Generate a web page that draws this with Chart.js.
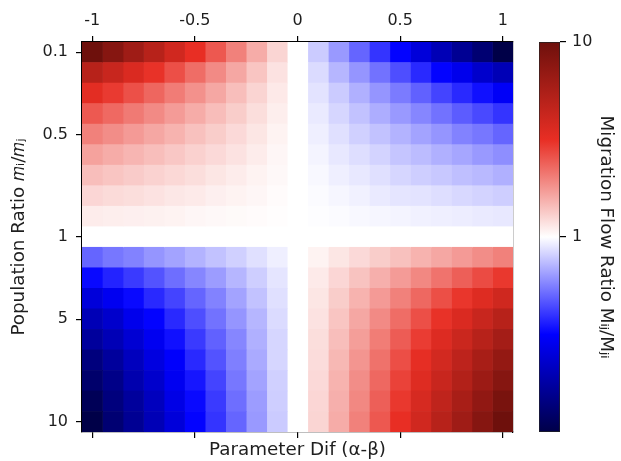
<!DOCTYPE html>
<html>
<head>
<meta charset="utf-8">
<script src="https://cdn.jsdelivr.net/npm/chart.js@4.4.0/dist/chart.umd.min.js"></script>
<style>
html,body{margin:0;padding:0;background:#fff;}
#wrap{position:relative;width:621px;height:461px;}
canvas{position:absolute;left:0;top:0;}
</style>
</head>
<body>
<div id="wrap">
<canvas id="main" width="621" height="461"></canvas>
<canvas id="cbar" width="621" height="461"></canvas>
</div>
<script>
// ---- categories / ticks ----
const paramDif = [-1, -0.9, -0.8, -0.7, -0.6, -0.5, -0.4, -0.3, -0.2, -0.1, 0, 0.1, 0.2, 0.3, 0.4, 0.5, 0.6, 0.7, 0.8, 0.9, 1];
const popRatio = ['0.1', '0.2', '0.3', '0.4', '0.5', '0.6', '0.7', '0.8', '0.9', '1', '2', '3', '4', '5', '6', '7', '8', '9', '10'];
const xTickValues = [-1, -0.5, 0, 0.5, 1];
const xTickLabels = ['-1', '-0.5', '0', '0.5', '1'];
const yTickLabels = ['0.1', '0.5', '1', '5', '10'];
const colorRange = [0.1, 10];
const colorTicks = [1, 10];

// ---- migration flow ratio M_ij/M_ji, one row per population ratio ----
const row_0_1 = [10, 7.94, 6.31, 5.01, 3.98, 3.16, 2.51, 2.00, 1.58, 1.26, 1, 0.79, 0.63, 0.50, 0.40, 0.32, 0.25, 0.20, 0.16, 0.13, 0.10];
const row_0_2 = [5.00, 4.26, 3.62, 3.09, 2.63, 2.24, 1.90, 1.62, 1.38, 1.17, 1, 0.85, 0.72, 0.62, 0.53, 0.45, 0.38, 0.32, 0.28, 0.23, 0.20];
const row_0_3 = [3.33, 2.96, 2.62, 2.32, 2.06, 1.83, 1.62, 1.43, 1.27, 1.13, 1, 0.88, 0.79, 0.70, 0.62, 0.55, 0.49, 0.43, 0.38, 0.34, 0.30];
const row_0_4 = [2.50, 2.28, 2.08, 1.90, 1.73, 1.58, 1.44, 1.32, 1.20, 1.10, 1, 0.91, 0.83, 0.76, 0.69, 0.63, 0.58, 0.53, 0.48, 0.44, 0.40];
const row_0_5 = [2.00, 1.87, 1.74, 1.62, 1.52, 1.41, 1.32, 1.23, 1.15, 1.07, 1, 0.93, 0.87, 0.81, 0.76, 0.71, 0.66, 0.62, 0.57, 0.54, 0.50];
const row_0_6 = [1.67, 1.58, 1.50, 1.43, 1.36, 1.29, 1.23, 1.17, 1.11, 1.05, 1, 0.95, 0.90, 0.86, 0.82, 0.77, 0.74, 0.70, 0.67, 0.63, 0.60];
const row_0_7 = [1.43, 1.38, 1.33, 1.28, 1.24, 1.20, 1.15, 1.11, 1.07, 1.04, 1, 0.97, 0.93, 0.90, 0.87, 0.83, 0.80, 0.78, 0.75, 0.73, 0.70];
const row_0_8 = [1.25, 1.22, 1.20, 1.17, 1.14, 1.12, 1.09, 1.07, 1.05, 1.02, 1, 0.98, 0.96, 0.94, 0.91, 0.89, 0.88, 0.86, 0.84, 0.82, 0.80];
const row_0_9 = [1.11, 1.10, 1.09, 1.08, 1.07, 1.05, 1.04, 1.03, 1.02, 1.01, 1, 0.99, 0.98, 0.97, 0.96, 0.95, 0.94, 0.93, 0.92, 0.91, 0.90];
const row_1   = [1, 1, 1, 1, 1, 1, 1, 1, 1, 1, 1, 1, 1, 1, 1, 1, 1, 1, 1, 1, 1];
const row_2   = [0.50, 0.54, 0.57, 0.62, 0.66, 0.71, 0.76, 0.81, 0.87, 0.93, 1, 1.07, 1.15, 1.23, 1.32, 1.41, 1.52, 1.62, 1.74, 1.87, 2.00];
const row_3   = [0.33, 0.37, 0.41, 0.46, 0.52, 0.58, 0.64, 0.72, 0.80, 0.89, 1, 1.12, 1.25, 1.39, 1.55, 1.73, 1.93, 2.16, 2.41, 2.69, 3.00];
const row_4   = [0.25, 0.29, 0.33, 0.38, 0.43, 0.50, 0.57, 0.66, 0.76, 0.87, 1, 1.15, 1.32, 1.52, 1.74, 2.00, 2.30, 2.64, 3.03, 3.48, 4.00];
const row_5   = [0.20, 0.23, 0.28, 0.32, 0.38, 0.45, 0.53, 0.62, 0.72, 0.85, 1, 1.17, 1.38, 1.62, 1.90, 2.24, 2.63, 3.09, 3.62, 4.26, 5.00];
const row_6   = [0.17, 0.20, 0.24, 0.29, 0.34, 0.41, 0.49, 0.58, 0.70, 0.83, 1, 1.20, 1.43, 1.71, 2.05, 2.45, 2.93, 3.50, 4.19, 5.02, 6.00];
const row_7   = [0.14, 0.17, 0.21, 0.26, 0.31, 0.38, 0.46, 0.56, 0.68, 0.83, 1, 1.21, 1.48, 1.79, 2.18, 2.65, 3.21, 3.90, 4.74, 5.76, 7.00];
const row_8   = [0.125, 0.15, 0.19, 0.23, 0.29, 0.35, 0.43, 0.54, 0.66, 0.81, 1, 1.23, 1.52, 1.87, 2.30, 2.83, 3.48, 4.29, 5.28, 6.50, 8.00];
const row_9   = [0.11, 0.14, 0.17, 0.21, 0.27, 0.33, 0.41, 0.52, 0.64, 0.80, 1, 1.25, 1.55, 1.93, 2.41, 3.00, 3.74, 4.66, 5.80, 7.22, 9.00];
const row_10  = [0.10, 0.13, 0.16, 0.20, 0.25, 0.32, 0.40, 0.50, 0.63, 0.79, 1, 1.26, 1.58, 2.00, 2.51, 3.16, 3.98, 5.01, 6.31, 7.94, 10.0];
const flowRatio = [row_0_1, row_0_2, row_0_3, row_0_4, row_0_5, row_0_6, row_0_7, row_0_8, row_0_9, row_1,
                   row_2, row_3, row_4, row_5, row_6, row_7, row_8, row_9, row_10];

// ---- colormap (seismic-like, as seen in the picture) ----
const cmapStops = [
  [0.00, [0, 0, 72]],
  [0.25, [0, 0, 255]],
  [0.50, [255, 255, 255]],
  [0.75, [232, 46, 36]],
  [1.00, [110, 16, 12]]
];
function cmapAt(t) {
  t = Math.max(0, Math.min(1, t));
  for (let k = 1; k < cmapStops.length; k++) {
    const [p1, c1] = cmapStops[k];
    const [p0, c0] = cmapStops[k - 1];
    if (t <= p1) {
      const f = (t - p0) / (p1 - p0);
      return 'rgb(' + c0.map((c, i) => Math.round(c + (c1[i] - c) * f)).join(',') + ')';
    }
  }
}
const lmin = Math.log10(colorRange[0]), lmax = Math.log10(colorRange[1]);
function colorFor(v) { return cmapAt((Math.log10(v) - lmin) / (lmax - lmin)); }

const FONT = 'DejaVu Sans';
const TXT = '#1e1e1e';
const tickFont = {family: FONT, size: 16};
const titleFont = {family: FONT, size: 18.3};

const half = (paramDif[1] - paramDif[0]) / 2;
const datasets = paramDif.map((d, j) => ({
  label: String(d),
  data: popRatio.map(() => [d - half, d + half]),
  backgroundColor: popRatio.map((r, i) => colorFor(flowRatio[i][j])),
  borderWidth: 0,
  grouped: false,
  barPercentage: 1,
  categoryPercentage: 1,
  xAxisID: 'x',
  yAxisID: 'y'
}));

const xCommon = {
  type: 'linear',
  min: paramDif[0] - half,
  max: paramDif[paramDif.length - 1] + half,
  afterBuildTicks: s => { s.ticks = xTickValues.map(v => ({value: v})); },
  grid: {drawOnChartArea: false, drawTicks: true, tickLength: 6, color: '#000', lineWidth: 1.2},
  border: {display: true, color: '#000', width: 1.2}
};

new Chart(document.getElementById('main'), {
  type: 'bar',
  data: {labels: popRatio, datasets},
  options: {
    indexAxis: 'y',
    responsive: false,
    animation: false,
    devicePixelRatio: 1,
    layout: {padding: {left: 0, top: 0, bottom: 0, right: 108}},
    plugins: {legend: {display: false}, tooltip: {enabled: false}},
    scales: {
      x: Object.assign({}, xCommon, {
        position: 'bottom',
        ticks: {autoSkip: false, callback: () => '', font: tickFont, color: TXT},
        title: {display: true, text: 'Parameter Dif (α-β)', font: titleFont, color: TXT, padding: {top: 0, bottom: 0}},
        afterFit: s => { s.height = 29; }
      }),
      x2: Object.assign({}, xCommon, {
        position: 'top',
        ticks: {autoSkip: false, maxRotation: 0, padding: 6, font: tickFont, color: TXT,
                callback: (v, i) => xTickLabels[xTickValues.indexOf(v)]},
        afterFit: s => { s.height = 42; }
      }),
      y: {
        type: 'category',
        position: 'left',
        labels: popRatio,
        afterBuildTicks: s => { s.ticks = yTickLabels.map(l => ({value: popRatio.indexOf(l)})); },
        ticks: {autoSkip: false, padding: 8, font: tickFont, color: TXT},
        grid: {offset: false, drawOnChartArea: false, drawTicks: true, tickLength: 6, color: '#000', lineWidth: 1.2},
        border: {display: true, color: '#000', width: 1.2},
        title: {display: true, text: 'Population Ratio 𝑚ᵢ/𝑚ⱼ', font: titleFont, color: TXT, padding: {top: 8, bottom: 0}},
        afterFit: s => { s.width = 82; }
      },
      y2: {
        type: 'linear',
        position: 'right',
        min: 0, max: 1,
        ticks: {display: false},
        grid: {display: false},
        border: {display: true, color: '#000', width: 1.2},
        afterFit: s => { s.width = 0; }
      }
    }
  }
});

// ---- colour bar ----
new Chart(document.getElementById('cbar'), {
  type: 'bar',
  data: {
    labels: ['scale'],
    datasets: [{
      data: [colorRange],
      backgroundColor: ctx => {
        const a = ctx.chart.chartArea;
        if (!a) return '#fff';
        const g = ctx.chart.ctx.createLinearGradient(0, a.bottom, 0, a.top);
        cmapStops.forEach(([p, c]) => g.addColorStop(p, 'rgb(' + c.join(',') + ')'));
        return g;
      },
      borderColor: '#222',
      borderWidth: 1,
      borderSkipped: false,
      barPercentage: 1,
      categoryPercentage: 1
    }]
  },
  options: {
    responsive: false,
    animation: false,
    devicePixelRatio: 1,
    layout: {padding: {left: 539, top: 42, bottom: 29, right: 0}},
    plugins: {legend: {display: false}, tooltip: {enabled: false}},
    scales: {
      x: {display: false},
      y: {
        type: 'logarithmic',
        position: 'right',
        min: colorRange[0],
        max: colorRange[1],
        afterBuildTicks: s => { s.ticks = colorTicks.map(v => ({value: v})); },
        ticks: {padding: 6, font: tickFont, color: TXT, callback: v => String(v)},
        grid: {drawOnChartArea: false, drawTicks: true, tickLength: 6, color: '#000', lineWidth: 1.2},
        border: {display: false},
        title: {display: true, text: 'Migration Flow Ratio Mᵢⱼ/Mⱼᵢ', font: titleFont, color: TXT, padding: {top: 4, bottom: 0}},
        afterFit: s => { s.width = 621 - 560; }
      }
    }
  }
});
</script>
</body>
</html>
